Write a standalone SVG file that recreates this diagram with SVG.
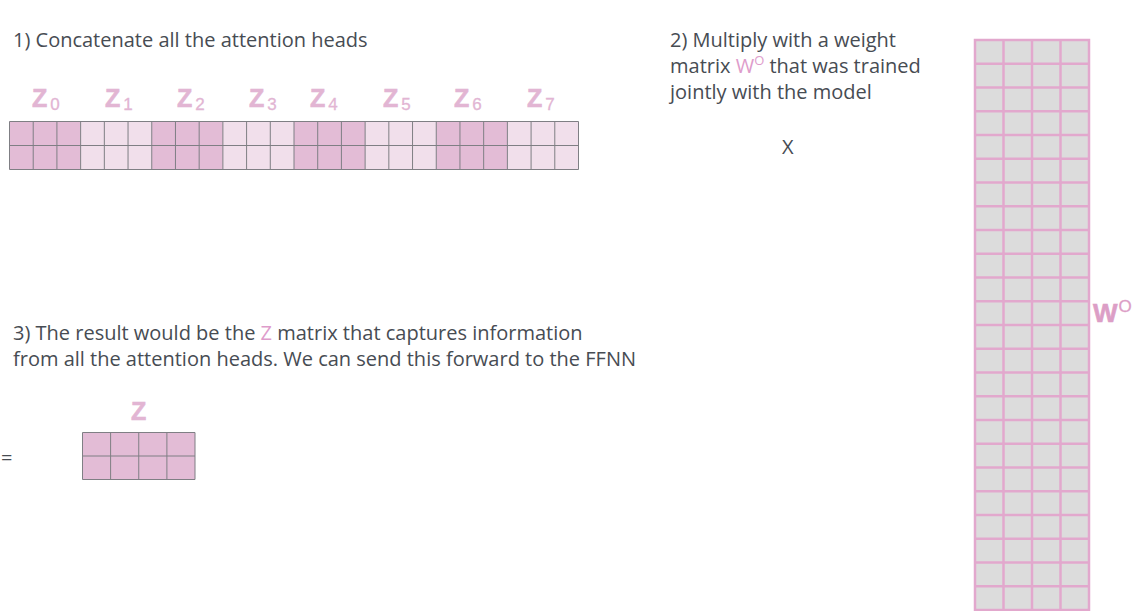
<svg xmlns="http://www.w3.org/2000/svg" width="1138" height="611" viewBox="0 0 1138 611">
<style>
.t{font-family:"Open Sans","Noto Sans",sans-serif;font-size:20px;font-weight:500;fill:#474c53}
.pk{fill:#de9ccb}
.zl{font-family:"Liberation Sans",Arial,sans-serif;font-weight:700;font-size:25px;fill:#e2b5d3;stroke:#e2b5d3;stroke-width:0.6}
.zs{font-family:"Liberation Sans",Arial,sans-serif;font-size:17px;fill:#e2b5d3;stroke:#e2b5d3;stroke-width:0.3}
.dk{fill:#e3bcd6}
.lt{fill:#f1dfeb}
.grid{fill:none;stroke:#7f7f84;stroke-width:1}
.wgrid{fill:none;stroke:#e2a8cd;stroke-width:2.5}
.wl{font-family:"Liberation Sans",Arial,sans-serif;font-weight:700;font-size:26px;fill:#dc9ec6;stroke:#dc9ec6;stroke-width:0.6}
.ws{font-family:"Liberation Sans",Arial,sans-serif;font-size:17px;fill:#dc9ec6;stroke:#dc9ec6;stroke-width:0.3}
</style>
<rect width="1138" height="611" fill="#ffffff"/>

<g id="step1-text">
<text class="t" x="13" y="47">1) Concatenate all the attention heads</text>
</g>

<g id="head-labels">
<text x="32" y="107"><tspan class="zl">Z</tspan><tspan class="zs" dx="3" dy="3">0</tspan></text>
<text x="105" y="107"><tspan class="zl">Z</tspan><tspan class="zs" dx="3" dy="3">1</tspan></text>
<text x="177" y="107"><tspan class="zl">Z</tspan><tspan class="zs" dx="3" dy="3">2</tspan></text>
<text x="249" y="107"><tspan class="zl">Z</tspan><tspan class="zs" dx="3" dy="3">3</tspan></text>
<text x="310" y="107"><tspan class="zl">Z</tspan><tspan class="zs" dx="3" dy="3">4</tspan></text>
<text x="383" y="107"><tspan class="zl">Z</tspan><tspan class="zs" dx="3" dy="3">5</tspan></text>
<text x="454" y="107"><tspan class="zl">Z</tspan><tspan class="zs" dx="3" dy="3">6</tspan></text>
<text x="527" y="107"><tspan class="zl">Z</tspan><tspan class="zs" dx="3" dy="3">7</tspan></text>
</g>

<g id="concat-matrix">
<rect class="dk" x="9.5" y="121.5" width="71.125" height="48"/>
<rect class="lt" x="80.625" y="121.5" width="71.125" height="48"/>
<rect class="dk" x="151.75" y="121.5" width="71.125" height="48"/>
<rect class="lt" x="222.875" y="121.5" width="71.125" height="48"/>
<rect class="dk" x="294" y="121.5" width="71.125" height="48"/>
<rect class="lt" x="365.125" y="121.5" width="71.125" height="48"/>
<rect class="dk" x="436.25" y="121.5" width="71.125" height="48"/>
<rect class="lt" x="507.375" y="121.5" width="71.125" height="48"/>
<path class="grid" d="M9.5 121.5H578.5V169.5H9.5ZM9.5 145.5H578.5
M33.21 121.5V169.5M56.92 121.5V169.5M80.63 121.5V169.5M104.33 121.5V169.5M128.04 121.5V169.5M151.75 121.5V169.5
M175.46 121.5V169.5M199.17 121.5V169.5M222.88 121.5V169.5M246.58 121.5V169.5M270.29 121.5V169.5M294 121.5V169.5
M317.71 121.5V169.5M341.42 121.5V169.5M365.13 121.5V169.5M388.83 121.5V169.5M412.54 121.5V169.5M436.25 121.5V169.5
M459.96 121.5V169.5M483.67 121.5V169.5M507.38 121.5V169.5M531.08 121.5V169.5M554.79 121.5V169.5"/>
</g>

<g id="step2-text">
<text class="t" x="670" y="47">2) Multiply with a weight</text>
<text class="t" x="670" y="73">matrix <tspan class="pk">W</tspan><tspan class="pk" font-size="13" dy="-8">O</tspan><tspan dy="8"> that was trained</tspan></text>
<text class="t" x="670" y="99">jointly with the model</text>
</g>

<g id="times-sign">
<text class="t" x="782" y="154">X</text>
</g>

<g id="wo-matrix">
<rect x="975" y="40" width="114" height="570" fill="#dcdcdc"/>
<path class="wgrid" d="M975 40H1089V610H975Z
M1003.5 40V610M1032 40V610M1060.5 40V610
M975 63.75H1089M975 87.5H1089M975 111.25H1089M975 135H1089M975 158.75H1089M975 182.5H1089
M975 206.25H1089M975 230H1089M975 253.75H1089M975 277.5H1089M975 301.25H1089M975 325H1089
M975 348.75H1089M975 372.5H1089M975 396.25H1089M975 420H1089M975 443.75H1089M975 467.5H1089
M975 491.25H1089M975 515H1089M975 538.75H1089M975 562.5H1089M975 586.25H1089"/>
<text x="1093" y="322"><tspan class="wl">W</tspan><tspan class="ws" dx="1" dy="-10">O</tspan></text>
</g>

<g id="step3-text">
<text class="t" x="13" y="340">3) The result would be the <tspan class="pk">Z</tspan> matrix that captures information</text>
<text class="t" x="13" y="366">from all the attention heads. We can send this forward to the FFNN</text>
</g>

<g id="equals-sign">
<text class="t" x="1" y="465">=</text>
</g>

<g id="z-result">
<text class="zl" x="131" y="420">Z</text>
<rect class="dk" x="82.5" y="432.5" width="112.5" height="47"/>
<path class="grid" d="M82.5 432.5H195V479.5H82.5ZM82.5 456H195M110.6 432.5V479.5M138.75 432.5V479.5M166.9 432.5V479.5"/>
</g>

<g id="connectors"></g>
</svg>
